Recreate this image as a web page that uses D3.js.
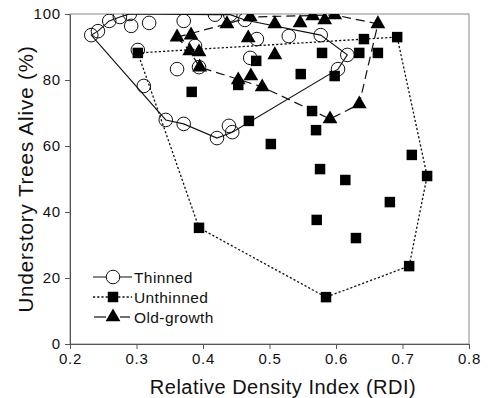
<!DOCTYPE html>
<html>
<head>
<meta charset="utf-8">
<script src="https://cdn.jsdelivr.net/npm/d3@7"></script>
<style>
  body { margin: 0; background: #fff; }
  svg { font-family: "Liberation Sans", Arial, sans-serif; }
</style>
</head>
<body>
<svg id="chart"></svg>
<script>
//--data
let thinnedX = [0.232, 0.242, 0.259, 0.275, 0.290, 0.292, 0.319, 0.371, 0.302, 0.361, 0.311, 0.344, 0.371, 0.421,
                0.439, 0.444, 0.394, 0.388, 0.418, 0.441, 0.463, 0.481, 0.471, 0.529, 0.577, 0.617, 0.603];
let thinnedY = [93.6, 94.8, 97.9, 99.1, 100, 96.4, 97.3, 97.9, 89.1, 83.3, 78.2, 67.9, 66.7, 62.4,
                66.1, 64.2, 83.9, 90.3, 99.8, 99.8, 98.2, 92.4, 86.7, 93.3, 93.6, 87.6, 83.3];
let thinnedHull = [0, 11, 12, 13, 15, 26, 25, 24, 20, 19, 18, 4, 3, 2, 1];

let unthinnedX = [0.302, 0.383, 0.453, 0.480, 0.469, 0.502, 0.547, 0.598, 0.579, 0.635, 0.663, 0.642, 0.692,
                  0.564, 0.570, 0.714, 0.737, 0.576, 0.614, 0.681, 0.571, 0.630, 0.710, 0.585, 0.394];
let unthinnedY = [88.2, 76.4, 78.5, 85.8, 67.6, 60.6, 81.8, 81.2, 88.2, 88.2, 88.2, 92.4, 93.0,
                  70.6, 64.8, 57.3, 50.9, 53.0, 49.7, 43.0, 37.6, 32.1, 23.6, 14.2, 35.2];
let unthinnedHull = [0, 12, 16, 22, 23, 24];

let oldX = [0.361, 0.382, 0.380, 0.394, 0.395, 0.436, 0.471, 0.468, 0.508, 0.508, 0.546, 0.565, 0.583, 0.598,
            0.663, 0.453, 0.472, 0.489, 0.635, 0.591];
let oldY = [93.0, 93.6, 88.8, 88.5, 83.9, 97.0, 99.1, 92.7, 97.0, 87.6, 97.3, 99.4, 98.2, 99.7,
            97.0, 80.0, 81.2, 77.9, 72.7, 68.2];
let oldHull = [0, 5, 6, 13, 14, 18, 19, 17, 4, 2];

let xTicks = [0.2, 0.3, 0.4, 0.5, 0.6, 0.7, 0.8];
let yTicks = [0, 20, 40, 60, 80, 100];
let legendNames = ["Thinned", "Unthinned", "Old-growth"];
//--

let width = 488;
let height = 398;
let margin = {left: 70, right: 19, top: 14, bottom: 54};

let svg = d3.select("#chart")
svg.attr("width", width)
svg.attr("height", height)

let x = d3.scaleLinear().domain([0.2, 0.8]).range([margin.left, width - margin.right])
let y = d3.scaleLinear().domain([0, 100]).range([height - margin.bottom, margin.top])

// frame
svg.append("rect")
   .attr("x", x(0.2)).attr("y", y(100))
   .attr("width", x(0.8) - x(0.2)).attr("height", y(0) - y(100))
   .attr("fill", "none").attr("stroke", "#8a8a8a").attr("stroke-width", 1)

let xAxis = svg.append("g")
   .attr("transform", "translate(0," + y(0) + ")")
   .call(d3.axisBottom(x).tickValues(xTicks).tickFormat(d3.format(".1f")).tickSize(5).tickSizeOuter(0))
let yAxis = svg.append("g")
   .attr("transform", "translate(" + x(0.2) + ",0)")
   .call(d3.axisLeft(y).tickValues(yTicks).tickSize(5).tickSizeOuter(0))

for (let ax of [xAxis, yAxis]) {
    ax.select(".domain").attr("stroke", "#555")
    ax.selectAll(".tick line").attr("stroke", "#555")
    ax.selectAll("text").attr("font-size", 15).attr("fill", "#111")
        .attr("letter-spacing", "0.8px")
        .style("font-family", "'Liberation Sans', Arial, sans-serif")
}
xAxis.selectAll("text").attr("dy", "0.8em")
yAxis.selectAll("text").attr("dx", "-1px")

svg.append("text")
   .attr("x", 283)
   .attr("y", 394)
   .attr("text-anchor", "middle")
   .attr("font-size", 20)
   .attr("letter-spacing", "0.5px")
   .attr("fill", "#111")
   .text("Relative Density Index (RDI)")

svg.append("text")
   .attr("transform", "translate(33,179) rotate(-90)")
   .attr("text-anchor", "middle")
   .attr("font-size", 20.5)
   .attr("letter-spacing", "0.9px")
   .attr("fill", "#111")
   .text("Understory Trees Alive (%)")

svg.append("clipPath").attr("id", "plotclip")
   .append("rect")
   .attr("x", x(0.2)).attr("y", y(100))
   .attr("width", x(0.8) - x(0.2)).attr("height", y(0) - y(100))

let plot = svg.append("g").attr("clip-path", "url(#plotclip)")

let toPoints = (xs, ys) => xs.map((v, i) => [v, ys[i]])
let thinned = toPoints(thinnedX, thinnedY)
let unthinned = toPoints(unthinnedX, unthinnedY)
let oldGrowth = toPoints(oldX, oldY)

let line = d3.line().x(d => x(d[0])).y(d => y(d[1])).curve(d3.curveLinearClosed)

let hulls = [
    {pts: thinned, hull: thinnedHull, dash: null, w: 1.1},
    {pts: unthinned, hull: unthinnedHull, dash: "2.2,2", w: 1.3},
    {pts: oldGrowth, hull: oldHull, dash: "9,5", w: 1.2}
]
hulls.forEach(h => {
    plot.append("path")
        .attr("d", line(h.hull.map(i => h.pts[i])))
        .attr("fill", "none")
        .attr("stroke", "#111")
        .attr("stroke-width", h.w)
        .attr("stroke-dasharray", h.dash)
})

let sq = d3.symbol().type(d3.symbolSquare).size(110)
let tri = d3.symbol().type(d3.symbolTriangle).size(95)

plot.selectAll(".sq").data(unthinned).enter()
    .append("path").attr("class", "sq")
    .attr("transform", d => "translate(" + x(d[0]) + "," + y(d[1]) + ")")
    .attr("d", sq).attr("fill", "#000")

plot.selectAll(".tri").data(oldGrowth).enter()
    .append("path").attr("class", "tri")
    .attr("transform", d => "translate(" + x(d[0]) + "," + y(d[1]) + ")")
    .attr("d", tri).attr("fill", "#000")

plot.selectAll(".circ").data(thinned).enter()
    .append("circle").attr("class", "circ")
    .attr("cx", d => x(d[0])).attr("cy", d => y(d[1]))
    .attr("r", 6.8)
    .attr("fill", "none").attr("stroke", "#111").attr("stroke-width", 1)

// legend
let legend = svg.append("g")
let rowY = [277, 297, 317]
legendNames.forEach((name, i) => {
    let g = legend.append("g").attr("transform", "translate(0," + rowY[i] + ")")
    if (i === 0) {
        g.append("line").attr("x1", 93).attr("x2", 132).attr("stroke", "#111").attr("stroke-width", 1.1)
        g.append("circle").attr("cx", 113).attr("r", 6.8).attr("fill", "#fff").attr("stroke", "#111")
    } else if (i === 1) {
        g.append("line").attr("x1", 93).attr("x2", 132).attr("stroke", "#111")
         .attr("stroke-width", 1.3).attr("stroke-dasharray", "2.2,2")
        g.append("path").attr("transform", "translate(113,0)").attr("d", sq).attr("fill", "#000")
    } else {
        g.append("line").attr("x1", 94).attr("x2", 106).attr("stroke", "#111").attr("stroke-width", 1.2)
        g.append("line").attr("x1", 120).attr("x2", 130).attr("stroke", "#111").attr("stroke-width", 1.2)
        g.append("path").attr("transform", "translate(113,0)").attr("d", tri).attr("fill", "#000")
    }
    g.append("text").attr("x", 134).attr("y", 5.5)
     .attr("font-size", 15.5).attr("letter-spacing", "0.4px")
     .attr("fill", "#111").text(name)
})
</script>
</body>
</html>
